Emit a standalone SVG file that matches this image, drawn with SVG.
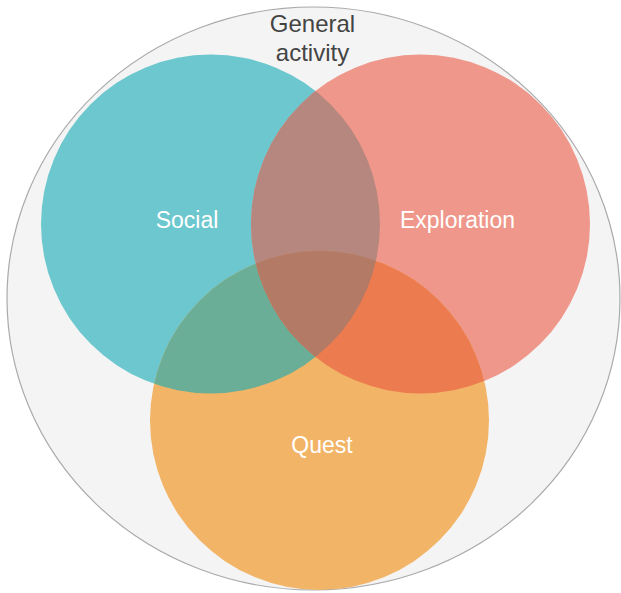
<svg xmlns="http://www.w3.org/2000/svg" width="621" height="593" viewBox="0 0 621 593">
<style>
.lbl{font-family:"Liberation Sans",Arial,sans-serif;font-size:23px;fill:#ffffff;text-anchor:middle}
.gen{font-family:"Liberation Sans",Arial,sans-serif;font-size:24px;fill:#444444;text-anchor:middle}
</style>
<defs>
<clipPath id="cS"><circle cx="210.5" cy="224" r="169.5"/></clipPath>
<clipPath id="cE"><circle cx="420.5" cy="224" r="169.5"/></clipPath>
<clipPath id="cQ"><circle cx="319.5" cy="420.5" r="169.5"/></clipPath>
</defs>
<g id="general">
<ellipse cx="313.5" cy="298.5" rx="306.5" ry="291.5" fill="#f4f4f4" stroke="#aaaaaa" stroke-width="1.2"/>
<text class="gen" x="312.5" y="32">General</text>
<text class="gen" x="312.5" y="61">activity</text>
</g>
<g id="social"><circle cx="210.5" cy="224" r="169.5" fill="#6cc7ce"/></g>
<g id="exploration"><circle cx="420.5" cy="224" r="169.5" fill="#ee978a"/></g>
<g id="quest"><circle cx="319.5" cy="420.5" r="169.5" fill="#f2b466"/></g>
<g id="overlaps">
<circle cx="420.5" cy="224" r="169.5" fill="#b5877f" clip-path="url(#cS)"/>
<circle cx="319.5" cy="420.5" r="169.5" fill="#6bae97" clip-path="url(#cS)"/>
<circle cx="319.5" cy="420.5" r="169.5" fill="#ec7b50" clip-path="url(#cE)"/>
<g clip-path="url(#cS)"><circle cx="319.5" cy="420.5" r="169.5" fill="#b37a65" clip-path="url(#cE)"/></g>
</g>
<g id="labels">
<text class="lbl" x="187" y="228">Social</text>
<text class="lbl" x="457.5" y="228">Exploration</text>
<text class="lbl" x="322" y="453">Quest</text>
</g>
</svg>
